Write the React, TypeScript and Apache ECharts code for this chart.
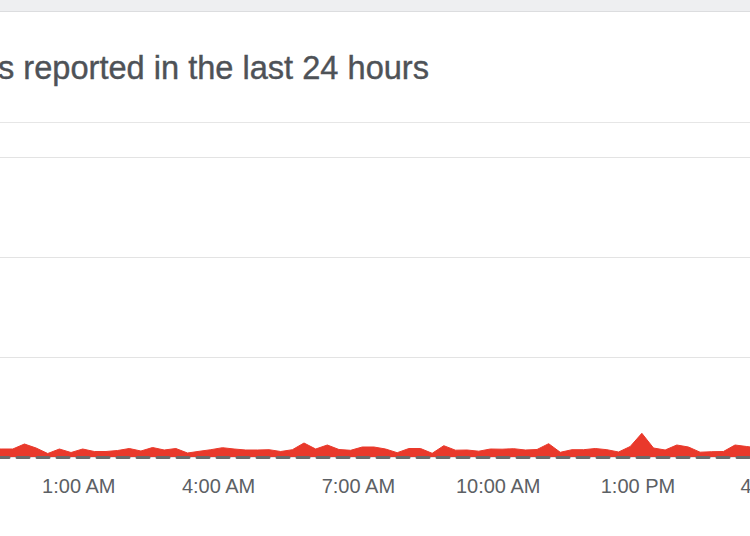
import React, { useEffect, useRef } from "react";
import * as echarts from "echarts";

// First sample at 10:50 PM (previous day), one sample every 15 minutes
const startMinutes = -70;
const stepMinutes = 15;
const reports = [
  1.6, 1.6, 1.6, 1.6, 2.6, 1.8, 0.7, 1.6, 0.9, 1.6,
  1.1, 1.1, 1.3, 1.7, 1.2, 1.9, 1.4, 1.7, 0.8, 1.14,
  1.46, 1.86, 1.6, 1.4, 1.4, 1.46, 1.1, 1.46, 2.8, 1.6,
  2.4, 1.5, 1.34, 2.0, 2.0, 1.6, 0.86, 1.7, 1.7, 0.74,
  2.26, 1.36, 1.4, 1.16, 1.6, 1.56, 1.66, 1.4, 1.5, 2.66,
  0.94, 1.46, 1.46, 1.7, 1.46, 1.0, 2.1, 4.74, 1.8, 1.4,
  2.4, 2.0, 0.96, 1.06, 1.1, 2.4, 2.1, 1.8, 1.6,
];
const tickHours = [1, 4, 7, 10, 13, 16];
const tickLabels = ["1:00 AM", "4:00 AM", "7:00 AM", "10:00 AM", "1:00 PM", "4:00 PM"];
const titleText = "s reported in the last 24 hours";

const FONT = '"Liberation Sans", Arial, Helvetica, sans-serif';
const OFFSET = 62; // inner chart div starts 62px left of the viewport

export default function App() {
  const ref = useRef<HTMLDivElement>(null);
  useEffect(() => {
    if (!ref.current) return;
    const chart = echarts.init(ref.current, null, { renderer: "svg" });
    const data = reports.map((v, i) => [(startMinutes + stepMinutes * i) / 60, v]);
    chart.setOption({
      animation: false,
      backgroundColor: "#ffffff",
      grid: { left: 1, right: 12, top: 157, bottom: 79 },
      xAxis: {
        type: "value",
        min: -2,
        max: 16.5,
        z: 5,
        axisLine: {
          show: true,
          onZero: false,
          lineStyle: { color: "#6b6b6b", width: 3, type: [12, 8], dashOffset: 2 },
        },
        axisTick: { show: false },
        splitLine: { show: false },
        axisLabel: {
          customValues: tickHours,
          formatter: (v: number) => {
            const i = tickHours.indexOf(v);
            return i >= 0 ? tickLabels[i] : "";
          },
          color: "#5c6064",
          fontSize: 20,
          fontFamily: FONT,
          margin: 19,
        },
      },
      yAxis: {
        type: "value",
        min: 0,
        max: 60,
        interval: 20,
        axisLabel: { show: false },
        axisLine: { show: false },
        axisTick: { show: false },
        splitLine: { lineStyle: { color: "#e3e3e3", width: 1 } },
      },
      series: [
        {
          type: "line",
          data,
          symbol: "none",
          lineStyle: { width: 1, color: "#e9392b" },
          areaStyle: { color: "#e9392b", opacity: 1 },
          z: 2,
        },
      ],
      graphic: [
        {
          type: "rect",
          shape: { x: 0, y: 0, width: 880, height: 11 },
          style: { fill: "#eeeff1" },
          silent: true,
        },
        {
          type: "line",
          shape: { x1: 0, y1: 11.5, x2: 880, y2: 11.5 },
          style: { stroke: "#dcdddf", lineWidth: 1 },
          silent: true,
        },
        {
          type: "line",
          shape: { x1: 0, y1: 122.5, x2: 880, y2: 122.5 },
          style: { stroke: "#e6e6e6", lineWidth: 1 },
          silent: true,
        },
        {
          type: "text",
          x: OFFSET - 2,
          y: 67,
          style: {
            text: titleText,
            fill: "#4e5257",
            font: `32.6px ${FONT}`,
            textVerticalAlign: "middle",
            textAlign: "left",
            stroke: "#4e5257",
            lineWidth: 0.4,
          },
          silent: true,
        },
      ],
    });
    return () => chart.dispose();
  }, []);
  return (
    <div
      style={{
        position: "fixed",
        left: 0,
        top: 0,
        width: 750,
        height: 536,
        overflow: "hidden",
        background: "#ffffff",
      }}
    >
      <div
        ref={ref}
        style={{ position: "absolute", left: -OFFSET, top: 0, width: 880, height: 536 }}
      />
    </div>
  );
}
